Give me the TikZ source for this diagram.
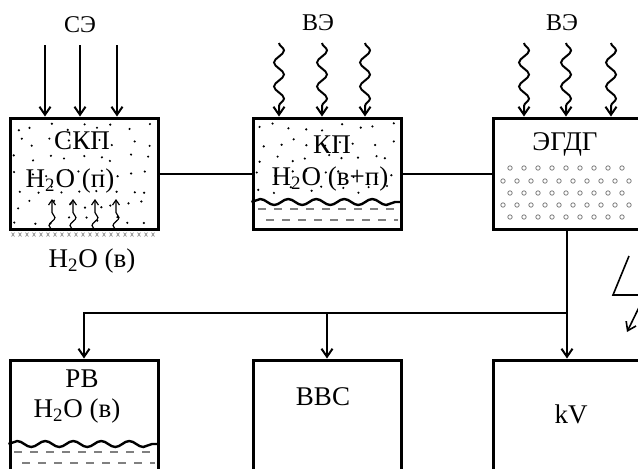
\documentclass[tikz,border=0pt]{standalone}
\usepackage{fontspec}
\setmainfont{Liberation Serif}
\usetikzlibrary{positioning,decorations.pathmorphing,arrows.meta}

\begin{document}
\begin{tikzpicture}[x=0.5pt, y=-0.5pt, >={Straight Barb[length=4pt,width=5.5pt]}, semithick,
    block/.style = {draw, line width=1.5pt, minimum width=74pt, minimum height=55.5pt, inner sep=0pt},
    tall/.style = {block, minimum height=70pt},
    txt/.style = {font=\fontsize{13.5}{16}\selectfont, inner sep=0pt, anchor=base},
    lbl/.style = {font=\fontsize{12}{14}\selectfont, inner sep=0pt, anchor=base},
    wavy/.style = {->, line width=1pt, decorate, decoration={snake, amplitude=2.5pt, segment length=12pt, post length=5pt}},
    ripple/.style = {line width=1.2pt, decorate, decoration={snake, amplitude=1.5pt, segment length=14pt}},
    water/.style = {gray, line width=0.6pt, dash pattern=on 4pt off 4pt}]
    \useasboundingbox (0,0) rectangle (638,468);
    \clip (0,0) rectangle (638,468);

    % dots and bubbles first
    \pgfmathsetseed{12}
    \foreach \c in {0,...,8} \foreach \r in {0,...,6}
        \fill ({18+16*\c+10*rnd-5},{127+15.5*\r+8*rnd-4}) circle (0.6pt);
    \foreach \c in {0,...,8} \foreach \r in {0,...,4}
        \fill ({261+16*\c+10*rnd-5},{127+15.5*\r+8*rnd-4}) circle (0.6pt);
    \foreach \y/\s/\n in {168/510/8, 181/503/9, 193/510/8, 205/503/9, 217/510/8}
        \foreach \k in {0,...,\n} \draw[gray, line width=0.4pt] (\s+14*\k,\y) circle (1.1pt);

    \node[block] (1) at (84,173.5) {};
    \node[block, right=46pt of 1] (2) {};
    \node[block, right=44.5pt of 2] (3) {};
    \node[tall, below=64pt of 1] (4) {};
    \node[tall, below=64pt of 2] (5) {};
    \node[tall, below=64pt of 3] (6) {};

    \node[txt] (t1) at (82,149) {СКП};
    \node[txt] (t2) at (70,187) {H\textsubscript{2}O~(п)};
    \node[txt] (t3) at (332,153) {КП};
    \node[txt] (t4) at (330,185) {H\textsubscript{2}O~(в+п)};
    \node[txt] (t5) at (565,150) {ЭГДГ};
    \node[txt] (t6) at (82,387) {РВ};
    \node[txt] (t7) at (77,417) {H\textsubscript{2}O~(в)};
    \node[txt] (t8) at (323,405) {ВВС};
    \node[txt] (t9) at (571,423) {kV};
    \node[txt] (t10) at (92,267) {H\textsubscript{2}O~(в)};
    \node[lbl] (l1) at (80,32) {СЭ};
    \node[lbl] (l2) at (318,30) {ВЭ};
    \node[lbl] (l3) at (562,30) {ВЭ};

    % incoming energy
    \foreach \x in {45,80,117} \draw[->, line width=1pt] (\x,45) -- (1.north -| \x,0);
    \foreach \x in {279,322,365} \draw[wavy] (\x,43) -- (2.north -| \x,0);
    \foreach \x in {524,566,611} \draw[wavy] (\x,43) -- (3.north -| \x,0);

    % evaporation in 1
    \foreach \x in {52,73,95,116}
        \draw[->, line width=0.6pt, >={Straight Barb[length=2.5pt,width=3.5pt]}, decorate,
              decoration={snake, amplitude=1.5pt, segment length=8pt, post length=3pt}] (1.south -| \x,0) -- (\x,199);
    \foreach \x in {13,20,...,157}
        \draw[gray, line width=0.3pt] (\x-1.5,232.5) -- (\x+1.5,236.5) (\x-1.5,236.5) -- (\x+1.5,232.5);

    % water surfaces
    \draw[ripple] (2.west |- 0,202) -- (2.east |- 0,202);
    \draw[water] (258,209) -- (398,209);
    \draw[water, dash phase=4pt] (258,220) -- (398,220);
    \draw[ripple] (4.west |- 0,444) -- (4.east |- 0,444);
    \draw[water] (14,452) -- (155,452);
    \draw[water, dash phase=4pt] (14,463) -- (155,463);

    % links
    \draw[line width=1pt] (1.east) -- (2.west);
    \draw[line width=1pt] (2.east) -- (3.west);
    \coordinate (j) at (3.south |- 0,313);
    \draw[->, line width=1pt] (3.south) -- (6.north);
    \draw[->, line width=1pt] (j) -| (4.north);
    \draw[->, line width=1pt] (5.north |- j) -- (5.north);

    % lightning
    \draw[->, line width=0.8pt] (629,256) -- (613,295) -- (645,295) -- (627,332);
\end{tikzpicture}
\end{document}
